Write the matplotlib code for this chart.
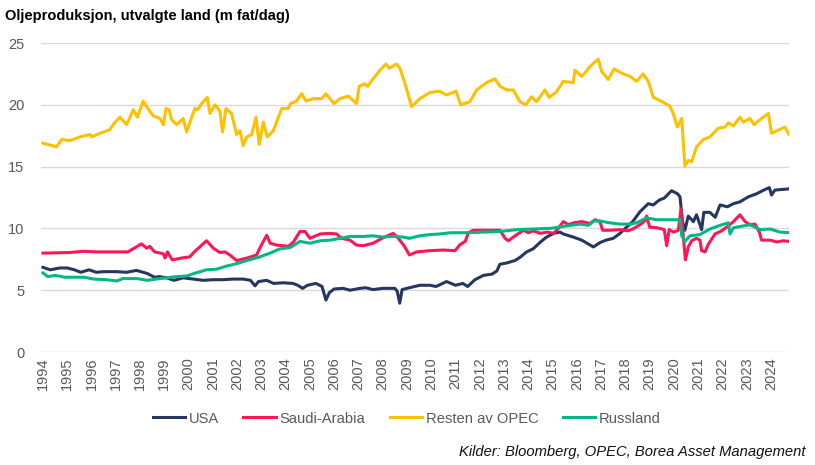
import numpy as np
import matplotlib.pyplot as plt

plt.rcParams['font.family'] = ['Liberation Sans', 'DejaVu Sans']

# (year as decimal, million barrels/day)
usa_t = [1994.0, 1994.3, 1994.7, 1995.0, 1995.3, 1995.56, 1995.9, 1996.2, 1996.5, 1997.05,
         1997.45, 1997.85, 1998.13, 1998.3, 1998.6, 1998.8, 1999.1, 1999.4, 1999.78, 2000.2,
         2000.6, 2001.0, 2001.4, 2001.83, 2002.25, 2002.55, 2002.74, 2002.88, 2003.22, 2003.5,
         2003.9, 2004.3, 2004.5, 2004.7, 2004.9, 2005.25, 2005.5, 2005.66, 2005.8, 2006.0,
         2006.37, 2006.65, 2007.06, 2007.3, 2007.6, 2008.0, 2008.5, 2008.6, 2008.7, 2008.8,
         2009.1, 2009.53, 2009.95, 2010.2, 2010.63, 2011.0, 2011.3, 2011.5, 2011.8, 2012.15,
         2012.5, 2012.7, 2012.83, 2013.1, 2013.45, 2013.65, 2013.93, 2014.2, 2014.5, 2014.75,
         2015.05, 2015.3, 2015.44, 2015.85, 2016.2, 2016.68, 2016.95, 2017.2, 2017.5, 2017.78,
         2018.05, 2018.3, 2018.6, 2018.94, 2019.15, 2019.4, 2019.6, 2019.9, 2020.15, 2020.25,
         2020.35, 2020.45, 2020.59, 2020.8, 2020.93, 2021.14, 2021.23, 2021.48, 2021.7, 2021.9,
         2022.2, 2022.45, 2022.72, 2023.06, 2023.4, 2023.7, 2023.93, 2024.02, 2024.16, 2024.74]
usa_v = [6.85, 6.65, 6.8, 6.8, 6.65, 6.45, 6.65, 6.45, 6.5, 6.5,
         6.45, 6.6, 6.45, 6.35, 6.05, 6.1, 6.0, 5.8, 6.0, 5.9,
         5.8, 5.85, 5.85, 5.9, 5.9, 5.8, 5.35, 5.7, 5.8, 5.55,
         5.6, 5.55, 5.4, 5.15, 5.4, 5.55, 5.3, 4.2, 4.8, 5.1,
         5.15, 5.0, 5.15, 5.2, 5.05, 5.15, 5.15, 4.9, 3.95, 5.05,
         5.2, 5.4, 5.4, 5.3, 5.7, 5.4, 5.55, 5.3, 5.85, 6.2,
         6.3, 6.55, 7.1, 7.2, 7.4, 7.65, 8.1, 8.35, 8.9, 9.3,
         9.6, 9.7, 9.55, 9.3, 9.05, 8.5, 8.85, 9.05, 9.2, 9.6,
         10.1, 10.55, 11.35, 12.0, 11.9, 12.3, 12.45, 13.05, 12.8, 12.55,
         10.55, 9.85, 11.0, 10.55, 11.1, 9.9, 11.3, 11.3, 10.9, 11.9,
         11.75, 12.0, 12.15, 12.55, 12.8, 13.1, 13.3, 12.7, 13.1, 13.2]

saudi_t = [1994.0, 1995.11, 1995.65, 1996.2, 1997.5, 1998.06, 1998.27, 1998.4, 1998.6, 1998.96,
           1999.03, 1999.13, 1999.33, 1999.7, 2000.05, 2000.26, 2000.46, 2000.74, 2001.02, 2001.29,
           2001.5, 2001.7, 2001.98, 2002.4, 2002.8, 2003.0, 2003.22, 2003.36, 2003.63, 2004.11,
           2004.32, 2004.59, 2004.8, 2005.0, 2005.42, 2005.83, 2006.1, 2006.3, 2006.65, 2006.92,
           2007.2, 2007.6, 2008.02, 2008.43, 2008.6, 2008.88, 2009.1, 2009.4, 2009.95, 2010.5,
           2010.98, 2011.19, 2011.4, 2011.53, 2011.73, 2012.28, 2012.55, 2012.83, 2013.04, 2013.18,
           2013.45, 2013.8, 2014.0, 2014.2, 2014.5, 2014.78, 2015.05, 2015.27, 2015.44, 2015.65,
           2015.86, 2016.2, 2016.54, 2016.75, 2016.95, 2017.06, 2017.36, 2017.78, 2018.1, 2018.3,
           2018.6, 2018.8, 2018.87, 2019.0, 2019.3, 2019.6, 2019.7, 2019.8, 2019.98, 2020.18,
           2020.29, 2020.39, 2020.47, 2020.59, 2020.73, 2020.93, 2021.07, 2021.14, 2021.28, 2021.41,
           2021.69, 2021.96, 2022.24, 2022.45, 2022.72, 2022.93, 2023.13, 2023.34, 2023.52, 2023.61,
           2023.96, 2024.23, 2024.5, 2024.74]
saudi_v = [8.0, 8.05, 8.15, 8.1, 8.1, 8.75, 8.4, 8.55, 8.1, 7.95,
           7.6, 8.1, 7.45, 7.6, 7.7, 8.15, 8.5, 9.0, 8.4, 8.05,
           8.1, 7.85, 7.4, 7.6, 7.85, 8.65, 9.45, 8.8, 8.65, 8.55,
           8.9, 9.75, 9.75, 9.2, 9.55, 9.6, 9.55, 9.2, 9.05, 8.65,
           8.6, 8.8, 9.25, 9.6, 9.3, 8.6, 7.85, 8.1, 8.2, 8.25,
           8.2, 8.7, 8.95, 9.65, 9.85, 9.85, 9.85, 9.85, 9.2, 9.0,
           9.4, 9.85, 9.65, 9.8, 9.6, 9.7, 9.6, 10.1, 10.55, 10.3,
           10.45, 10.55, 10.4, 10.7, 10.55, 9.85, 9.85, 9.9, 9.8, 9.95,
           10.3, 10.6, 11.0, 10.1, 10.05, 9.9, 8.6, 9.9, 9.7, 9.85,
           11.6, 9.2, 7.45, 8.5, 9.0, 9.2, 9.05, 8.2, 8.1, 8.7,
           9.55, 9.8, 10.2, 10.55, 11.1, 10.55, 10.3, 10.35, 9.7, 9.05,
           9.05, 8.9, 9.0, 8.95]

opec_t = [1994.0, 1994.56, 1994.77, 1995.11, 1995.52, 1995.94, 1996.0, 1996.35, 1996.76, 1996.97,
          1997.17, 1997.45, 1997.72, 1997.89, 1998.13, 1998.27, 1998.55, 1998.82, 1998.96, 1999.07,
          1999.2, 1999.3, 1999.51, 1999.78, 1999.92, 2000.13, 2000.26, 2000.37, 2000.54, 2000.77,
          2000.88, 2001.09, 2001.29, 2001.4, 2001.54, 2001.77, 2001.98, 2002.12, 2002.25, 2002.39,
          2002.6, 2002.78, 2002.91, 2003.08, 2003.24, 2003.49, 2003.84, 2004.11, 2004.2, 2004.45,
          2004.66, 2004.84, 2005.14, 2005.48, 2005.66, 2005.99, 2006.24, 2006.58, 2006.92, 2007.03,
          2007.27, 2007.38, 2007.54, 2007.89, 2008.13, 2008.27, 2008.57, 2008.71, 2008.92, 2009.19,
          2009.53, 2009.95, 2010.33, 2010.63, 2011.02, 2011.21, 2011.59, 2011.87, 2012.28, 2012.62,
          2012.83, 2013.11, 2013.38, 2013.65, 2013.9, 2014.13, 2014.34, 2014.68, 2014.86, 2015.16,
          2015.44, 2015.85, 2015.92, 2016.2, 2016.34, 2016.54, 2016.88, 2017.02, 2017.29, 2017.53,
          2017.91, 2018.19, 2018.46, 2018.73, 2018.94, 2019.15, 2019.56, 2019.83, 2019.97, 2020.14,
          2020.32, 2020.45, 2020.59, 2020.73, 2020.93, 2021.21, 2021.48, 2021.82, 2022.1, 2022.24,
          2022.45, 2022.72, 2022.86, 2023.13, 2023.3, 2023.61, 2023.89, 2024.02, 2024.3, 2024.57,
          2024.74]
opec_v = [16.9, 16.6, 17.2, 17.1, 17.4, 17.6, 17.4, 17.7, 18.0, 18.6,
          19.0, 18.4, 19.6, 19.0, 20.3, 19.85, 19.1, 18.9, 18.4, 19.7,
          19.6, 18.8, 18.4, 18.9, 17.8, 19.0, 19.7, 19.6, 20.1, 20.6,
          19.3, 20.0, 19.5, 17.8, 19.7, 19.3, 17.6, 17.9, 16.7, 17.4,
          17.6, 19.0, 16.8, 18.6, 17.4, 17.9, 19.7, 19.7, 20.1, 20.3,
          20.9, 20.3, 20.5, 20.5, 20.9, 20.1, 20.5, 20.7, 20.1, 21.5,
          21.7, 21.5, 21.95, 22.8, 23.3, 22.95, 23.3, 22.95, 21.7, 19.85,
          20.5, 21.0, 21.1, 20.8, 21.1, 20.0, 20.25, 21.2, 21.8, 22.1,
          21.5, 21.2, 21.2, 20.25, 20.0, 20.65, 20.25, 21.2, 20.6, 21.05,
          21.9, 21.8, 22.8, 22.3, 22.6, 23.1, 23.7, 22.7, 22.05, 22.9,
          22.5, 22.3, 21.9, 22.5, 21.9, 20.6, 20.2, 19.9, 19.3, 18.2,
          18.9, 15.05, 15.5, 15.4, 16.6, 17.2, 17.4, 18.1, 18.2, 18.55,
          18.3, 19.0, 18.6, 18.9, 18.4, 18.9, 19.3, 17.7, 17.95, 18.2,
          17.6]

rus_t = [1994.0, 1994.2, 1994.5, 1994.9, 1995.3, 1995.7, 1996.1, 1996.6, 1997.05, 1997.3,
         1997.85, 1998.3, 1998.65, 1999.1, 1999.5, 1999.92, 2000.3, 2000.74, 2001.15, 2001.56,
         2001.98, 2002.4, 2002.94, 2003.36, 2003.77, 2004.18, 2004.59, 2005.0, 2005.42, 2005.83,
         2006.24, 2006.65, 2007.2, 2007.6, 2008.02, 2008.43, 2008.85, 2009.1, 2009.53, 2009.95,
         2010.35, 2010.8, 2011.5, 2012.15, 2012.83, 2013.52, 2014.2, 2014.9, 2015.58, 2016.13,
         2016.47, 2016.7, 2016.95, 2017.36, 2017.78, 2018.19, 2018.46, 2018.87, 2019.3, 2019.7,
         2020.25, 2020.32, 2020.45, 2020.66, 2021.07, 2021.48, 2021.9, 2022.24, 2022.31, 2022.45,
         2022.72, 2023.13, 2023.55, 2023.96, 2024.37, 2024.74]
rus_v = [6.4, 6.1, 6.2, 6.05, 6.05, 6.05, 5.9, 5.85, 5.75, 5.95,
         5.95, 5.8, 5.9, 6.0, 6.1, 6.15, 6.4, 6.65, 6.7, 6.95,
         7.15, 7.4, 7.7, 8.0, 8.35, 8.45, 8.95, 8.8, 9.0, 9.05,
         9.2, 9.35, 9.35, 9.4, 9.3, 9.35, 9.3, 9.2, 9.4, 9.5,
         9.55, 9.65, 9.65, 9.7, 9.75, 9.9, 9.95, 10.0, 10.2, 10.35,
         10.25, 10.6, 10.6, 10.45, 10.35, 10.35, 10.45, 10.85, 10.7, 10.7,
         10.7, 9.4, 8.95, 9.4, 9.5, 9.95, 10.25, 10.45, 9.55, 10.05,
         10.15, 10.3, 9.9, 9.95, 9.7, 9.65]

years = np.arange(1994, 2025)

fig = plt.figure(figsize=(8.15, 4.65), dpi=100)
ax = fig.add_axes([0.0503, 0.243, 0.9178, 0.6645])

ax.plot(usa_t, usa_v, color='#253760', lw=2.2, label='USA')
ax.plot(saudi_t, saudi_v, color='#FF1654', lw=2.2, label='Saudi-Arabia')
ax.plot(opec_t, opec_v, color='#FFC000', lw=2.2, label='Resten av OPEC')
ax.plot(rus_t, rus_v, color='#00B886', lw=2.2, label='Russland')

ax.set_ylim(0, 25)
ax.set_xlim(1993.92, 2024.74)
ax.set_yticks(range(0, 26, 5))
ax.set_xticks(years)
ax.set_xticklabels([str(y) for y in years], rotation=90)
ax.tick_params(axis='both', length=0, labelsize=10.5, labelcolor='#595959')
ax.tick_params(axis='y', pad=12)
ax.tick_params(axis='x', pad=4)
ax.grid(axis='y', color='#d9d9d9', lw=1)
ax.set_axisbelow(True)
for s in ax.spines.values():
    s.set_visible(False)

fig.text(0.006, 0.965, 'Oljeproduksjon, utvalgte land (m fat/dag)', fontsize=10.5,
         fontweight='bold', va='center', ha='left', color='black')

ax.legend(loc='center', bbox_to_anchor=(0.499, 0.1), bbox_transform=fig.transFigure,
          ncol=4, frameon=False, fontsize=10.6, handlelength=2.2, handletextpad=0.25,
          columnspacing=1.65, labelcolor='#595959')

fig.text(0.988, 0.027, 'Kilder: Bloomberg, OPEC, Borea Asset Management', fontsize=10.6,
         style='italic', ha='right', va='center', color='#111111')

fig.savefig('out.png', dpi=100)
